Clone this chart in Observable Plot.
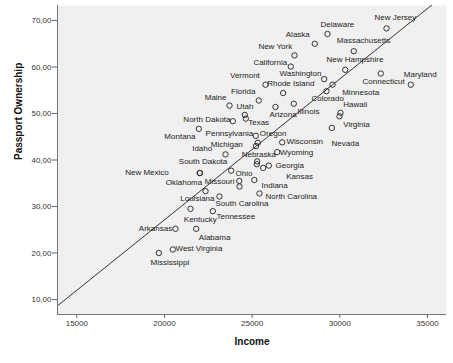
<!DOCTYPE html>
<html><head><meta charset="utf-8">
<script src="https://cdn.jsdelivr.net/npm/d3@7"></script>
<script src="https://cdn.jsdelivr.net/npm/@observablehq/plot@0.6"></script>
<style>
html,body{margin:0;padding:0;background:#fff;}
</style></head><body><div id="chart"></div>
<script>
const states = ["New Jersey","Delaware","Alaska","Massachusetts","New York","California","New Hampshire","Maryland","Connecticut","Washington","Minnesota","Colorado","Vermont","Rhode Island","Florida","Maine","Utah","Texas","Arizona","Illinois","Hawaii","Virginia","Nevada","North Dakota","Montana","Pennsylvania","Oregon","Michigan","Wisconsin","Idaho","Wyoming","Nebraska","Iowa","Kansas","Georgia","Ohio","South Dakota","New Mexico","Missouri","Indiana","Oklahoma","South Carolina","Louisiana","North Carolina","Kentucky","Tennessee","Arkansas","Alabama","West Virginia","Mississippi"];
const income = [32662,29297,28573,30797,27415,27204,30307,32337,34048,29109,29583,29240,25762,26771,25379,23709,24581,24638,26332,27376,30039,29982,29543,23897,21958,25208,25322,25220,26714,23480,26429,25288,25265,25630,25950,23805,22015,22015,24267,25123,22340,23138,24279,25419,21484,22756,20629,21809,20475,19676];
const passport = [68.3,67.1,65.0,63.4,62.5,60.1,59.4,58.6,56.2,57.4,56.2,54.8,56.2,54.4,52.8,51.7,49.7,48.9,51.4,52.1,50.15,49.4,46.9,48.35,46.7,45.2,43.7,43.0,43.8,41.2,41.7,39.7,39.1,38.3,38.8,37.7,37.2,37.2,35.5,35.7,33.3,32.15,34.3,32.8,29.5,29.0,25.2,25.2,20.75,20.0];
const unlabeled = ["Iowa"];
const xTicks = [15000,20000,25000,30000,35000];
const yTicks = [10,20,30,40,50,60,70];
const xDomain = [13899, 36084];
const yDomain = [6.77, 73.23];
const xTitle = "Income";
const yTitle = "Passport Ownership";
// fit line (linear): passport = fitIntercept + fitSlope * income
const fitIntercept = -33.48;
const fitSlope = 0.0030305;

// label placement relative to each point: [dx, dy, textAnchor]
const labelPlacement = {
  "New Jersey":[-12,-11,"start"],"Delaware":[-7,-9.7,"start"],"Alaska":[-5,-9,"end"],
  "Massachusetts":[-17,-10.7,"start"],"New York":[-2.3,-9,"end"],"California":[-3.6,-4,"end"],
  "New Hampshire":[-18.7,-10,"start"],"Maryland":[23,1,"start"],"Connecticut":[-6,-3,"end"],
  "Washington":[-2.7,-6,"end"],"Minnesota":[9.7,8,"start"],"Colorado":[-15,7.6,"start"],
  "Vermont":[-5.7,-9,"end"],"Rhode Island":[-16,-10,"start"],"Florida":[-3.3,-9.3,"end"],
  "Maine":[-3,-8.3,"end"],"Utah":[-8.3,-8.3,"start"],"Texas":[2.4,3.4,"start"],
  "Arizona":[-6,7.6,"start"],"Illinois":[3.4,7.7,"start"],"Hawaii":[2.7,-8,"start"],
  "Virginia":[3.7,8,"start"],"Nevada":[-0.3,16,"start"],"North Dakota":[-2.3,-1.4,"end"],
  "Montana":[-3.3,7.7,"end"],"Pennsylvania":[-2.6,-2,"end"],"Oregon":[2,-9.6,"start"],
  "Michigan":[-13.2,-1.4,"end"],"Wisconsin":[4.3,-1.3,"start"],"Idaho":[-13.3,-5.7,"end"],
  "Wyoming":[2.6,0,"start"],"Nebraska":[1.6,-7,"middle"],"Kansas":[23,8.5,"start"],
  "Georgia":[6.7,0,"start"],"Ohio":[4.3,2.3,"start"],"South Dakota":[-21,-11.7,"start"],
  "New Mexico":[-31,-1,"end"],"Missouri":[-4.8,0.5,"end"],"Indiana":[7.2,5,"start"],
  "Oklahoma":[-3.3,-8.4,"end"],"South Carolina":[-4,7.3,"start"],"Louisiana":[-25,12.3,"end"],
  "North Carolina":[6,3,"start"],"Kentucky":[-6.7,10.7,"start"],"Tennessee":[3.7,5,"start"],
  "Arkansas":[-3.3,0,"end"],"Alabama":[2.6,8.4,"start"],"West Virginia":[2.7,-0.7,"start"],
  "Mississippi":[-8.3,9.4,"start"]
};

const data = states.map((s, i) => ({state: s, income: income[i], passport: passport[i]}));
const fit = xDomain.map(x => ({income: x, passport: fitIntercept + fitSlope * x}));

const labelMarks = data.filter(d => !unlabeled.includes(d.state)).map(d => {
  const [dx, dy, anchor] = labelPlacement[d.state];
  return Plot.text([d], {x: "income", y: "passport", text: "state", dx, dy, textAnchor: anchor, fill: "#222", fontSize: 8});
});

const chart = Plot.plot({
  width: 453, height: 363,
  marginLeft: 57, marginRight: 7, marginTop: 5, marginBottom: 49,
  style: {fontFamily: "'Liberation Sans', Arial, sans-serif", fontSize: "8px", background: "#fff", color: "#222", overflow: "visible"},
  x: {domain: xDomain},
  y: {domain: yDomain},
  marks: [
    Plot.frame({fill: "#f0f0f0", stroke: "none"}),
    Plot.line(fit, {x: "income", y: "passport", stroke: "#333", strokeWidth: 1, clip: true}),
    Plot.dot(data, {x: "income", y: "passport", r: 2.7, stroke: "#333", strokeWidth: 1, fill: "none"}),
    ...labelMarks,
    Plot.ruleX([xDomain[0]], {stroke: "#777"}),
    Plot.ruleY([yDomain[0]], {stroke: "#777"}),
    Plot.axisX({ticks: xTicks, tickSize: 4, tickPadding: 2, tickFormat: d => String(d), label: null, stroke: "#666", color: "#333"}),
    Plot.axisY({ticks: yTicks, tickSize: 5, tickPadding: 1, tickFormat: d => d.toFixed(2).replace(".", ","), label: null, stroke: "#666", color: "#333"}),
    Plot.text([xTitle], {frameAnchor: "bottom", dy: 30, fontWeight: "bold", fontSize: 10, fill: "#111"}),
    Plot.text([yTitle], {frameAnchor: "left", dx: -39, rotate: -90, fontWeight: "bold", fontSize: 10, fill: "#111"})
  ]
});
document.getElementById("chart").appendChild(chart);
</script></body></html>
